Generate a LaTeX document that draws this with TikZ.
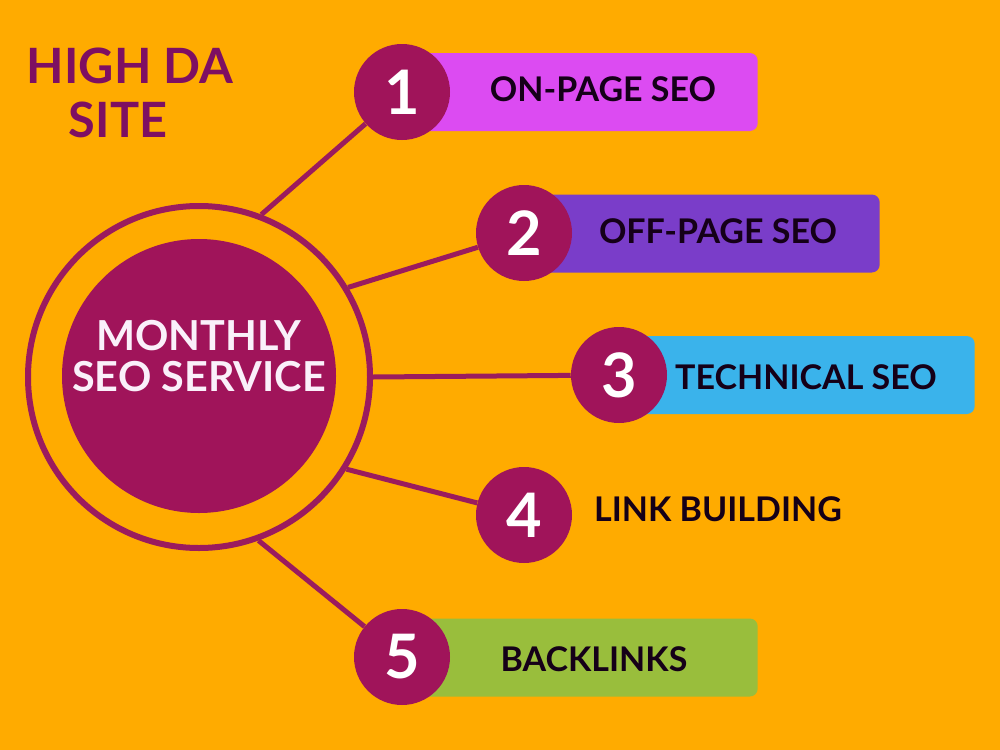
\documentclass[tikz,border=0pt]{standalone}
\usepackage{fontspec}
\setmainfont{Lato}
\definecolor{bg}{HTML}{FFAB00}
\definecolor{maroon}{HTML}{A0145A}
\definecolor{ringcol}{HTML}{9B1B5E}
\definecolor{titlecol}{HTML}{7E0F62}
\definecolor{boxA}{HTML}{DC4BF2}
\definecolor{boxB}{HTML}{7A3DC9}
\definecolor{boxC}{HTML}{3AB3EB}
\definecolor{boxE}{HTML}{99BE3C}
\definecolor{darktext}{HTML}{150018}
\definecolor{paletext}{HTML}{FAF0FA}
\begin{document}
\begin{tikzpicture}[x=0.75pt,y=-0.75pt,
  numcirc/.style={circle, fill=maroon, minimum size=72pt, inner sep=0pt,
    text=white, font=\fontsize{46}{46}\selectfont\bfseries},
  itembox/.style={rounded corners=6pt, minimum height=58.5pt, minimum width=268.5pt, inner sep=0pt, anchor=east},
  itemtext/.style={text=darktext, font=\fontsize{25.5}{25.5}\selectfont\bfseries, inner sep=0pt},
  hubtext/.style={text=paletext, font=\fontsize{31}{31}\selectfont\bfseries, inner sep=0pt, anchor=base},
  titletext/.style={text=titlecol, font=\fontsize{36.5}{44}\selectfont\bfseries, inner sep=0pt},
  conn/.style={draw=ringcol, line width=3.75pt}
]
\useasboundingbox (0,0) rectangle (1000,750);
\fill[bg] (0,0) rectangle (1000,750);

% title
\node[titletext] (t1) at (130,66) {HIGH DA};
\node[titletext] (t2) at (118,120) {SITE};

% central hub
\node[circle, draw=ringcol, line width=4.5pt, minimum size=256.5pt, inner sep=0pt] (ring) at (199,377) {};
\node[circle, fill=maroon, minimum size=205.5pt, inner sep=0pt] (hub) at (199,376) {};
\node[hubtext] (h1) at (199,350) {MONTHLY};
\node[hubtext] (h2) at (199,391) {SEO SERVICE};

% boxes
\node[itembox, fill=boxA] (b1) at (758,92) {};
\node[itembox, fill=boxB] (b2) at (880,233.5) {};
\node[itembox, fill=boxC] (b3) at (975,375) {};
\node[itembox, fill=boxE] (b5) at (758,657.5) {};

% number circles
\node[numcirc] (n1) at (402,92) {1};
\node[numcirc] (n2) at (524,233) {2};
\node[numcirc] (n3) at (619,375) {3};
\node[numcirc] (n4) at (524,515) {4};
\node[numcirc] (n5) at (402,657) {5};

% connectors
\draw[conn] (ring.69.6) -- (n1);
\draw[conn] (ring.31) -- (n2);
\draw[conn] (ring.0) -- (n3);
\draw[conn] (ring.-32.5) -- (n4);
\draw[conn] (ring.-70.4) -- (n5);

% labels
\node[itemtext] (l1) at (603,89) {ON-PAGE SEO};
\node[itemtext] (l2) at (718,231) {OFF-PAGE SEO};
\node[itemtext] (l3) at (806,377) {TECHNICAL SEO};
\node[itemtext] (l4) at (718,509) {LINK BUILDING};
\node[itemtext] (l5) at (594,659) {BACKLINKS};
\end{tikzpicture}
\end{document}
